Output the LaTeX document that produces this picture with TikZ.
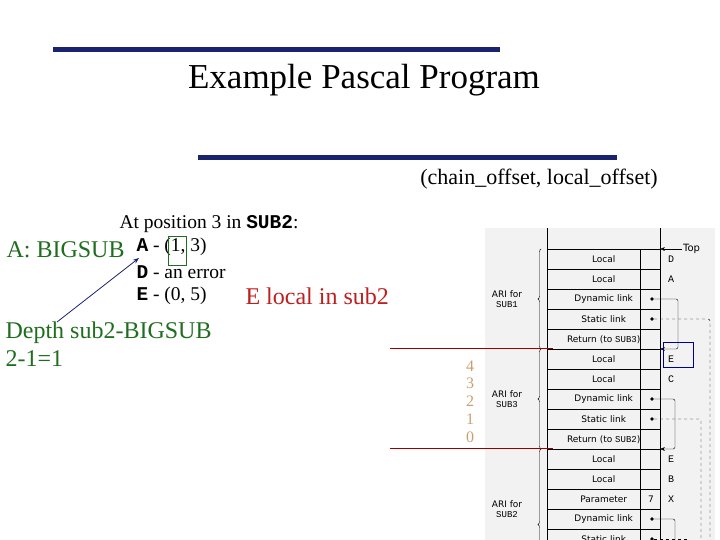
\documentclass[tikz,border=0pt]{standalone}
\usepackage{fontspec}
\setmainfont{Liberation Serif}
\setmonofont{Liberation Mono}
\newfontfamily\stackfont{DejaVu Sans}
\usetikzlibrary{arrows.meta, decorations.pathreplacing}
\definecolor{barblue}{RGB}{25,35,110}
\definecolor{darkgreen}{RGB}{30,110,30}
\definecolor{redtext}{RGB}{190,30,30}
\definecolor{tan}{RGB}{200,160,110}
\definecolor{panel}{RGB}{242,242,242}
\tikzset{
  cell/.style={draw, minimum width=113pt, minimum height=20pt, inner sep=0pt, font=\stackfont\fontsize{9}{10}\selectfont},
  letter/.style={font=\ttfamily\fontsize{10}{11}\selectfont},
  dot/.style={circle, fill, inner sep=1.3pt},
  link/.style={-{Stealth[length=5pt]}, rounded corners=2pt},
  slink/.style={dashed},
  ari/.style={font=\stackfont\fontsize{9}{10}\selectfont, align=center},
  big/.style={font=\fontsize{24}{26}\selectfont},
  mid/.style={font=\fontsize{19.5}{22}\selectfont}
}
\begin{document}
\begin{tikzpicture}[x=1pt, y=-1pt]
\useasboundingbox (0,0) rectangle (720,540);
% title
\draw[barblue, line width=5pt] (53,50) -- (500,50);
\node (title) at (364,80) {\fontsize{35}{38}\selectfont Example Pascal Program};
\draw[barblue, line width=5pt] (198,158) -- (617,158);
\node[font=\fontsize{22}{24}\selectfont] (pair) at (539,179) {(chain\_offset, local\_offset)};
% left text
\node[anchor=west, mid] (pos) at (116,224) {At position 3 in \textbf{\texttt{SUB2}}:};
\node[anchor=west, text=darkgreen, big] (bigsub) at (3,250) {A: BIGSUB};
\node[anchor=west, mid] (la) at (133,247) {\textbf{\texttt{A}} - (1, 3)};
\node[anchor=west, mid] (ld) at (133,272) {\textbf{\texttt{D}} - an error};
\node[anchor=west, mid] (le) at (133,296) {\textbf{\texttt{E}} - (0, 5)};
\node[anchor=west, text=redtext, big] (eloc) at (242,296) {E local in sub2};
\node[anchor=west, text=darkgreen, align=left, font=\fontsize{24}{28}\selectfont] (depth) at (2,344) {Depth sub2-BIGSUB\\2-1=1};
\draw[darkgreen] (168,236) rectangle (186,265);
\draw[barblue, thick, -{Stealth[length=6pt]}] (57,322) -- (139,258);
% stack panel
\fill[panel] (485,228) rectangle (715,540);
\begin{scope}
\clip (485,228) rectangle (715,540);
\draw (547,228) -- (547,249) (660,228) -- (660,249);
\foreach \t [count=\i from 0] in {Local,Local,Dynamic link,Static link,Return (to \texttt{SUB3}),Local,Local,Dynamic link,Static link,Return (to \texttt{SUB2}),Local,Local,Parameter,Dynamic link,Static link}
  \node[cell, anchor=north west] (c\i) at (547,249+20*\i) {\t};
\foreach \i in {0,...,14} \draw (640,249+20*\i) -- (640,269+20*\i);
\foreach \l [count=\i from 0] in {D,A,,,,E,C,,,,E,B,X}
  \node[letter] (l\i) at (671,259+20*\i) {\l};
\node[font=\stackfont\fontsize{9}{10}\selectfont] (seven) at (651,499) {7};
\foreach \i in {2,7,13} \node[dot] (d\i) at (652,259+20*\i) {};
\foreach \i in {3,8,14} \node[dot] (s\i) at (652,259+20*\i) {};
\node[font=\stackfont\fontsize{10}{11}\selectfont, anchor=west, inner sep=1pt] (top) at (682,249) {Top};
\draw[-{Stealth[length=5pt]}] (top.west) -- (660,249);
\draw[link] (d2) -- (678,299) -- (678,349) -- (660,349);
\draw[link] (d7) -- (675,399) -- (675,449) -- (660,449);
\draw[rounded corners=2pt] (d13) -- (675,519) -- (675,545);
\draw[slink, rounded corners=2pt] (s3) -- (710,319) -- (710,545);
\draw[slink, rounded corners=2pt] (s8) -- (701,419) -- (701,545);
\draw[slink] (s14) -- (690,539);
\draw[decorate, decoration={brace, amplitude=3pt}] (541,349) -- (541,249);
\draw[decorate, decoration={brace, amplitude=3pt}] (541,449) -- (541,349);
\draw[decorate, decoration={brace, amplitude=3pt}] (541,600) -- (541,449);
\node[ari] (a1) at (507,299) {ARI for\\\texttt{SUB1}};
\node[ari] (a3) at (507,399) {ARI for\\\texttt{SUB3}};
\node[ari] (a2) at (507,509) {ARI for\\\texttt{SUB2}};
\draw[blue!60!black] (663,342) rectangle (693,367);
\end{scope}
% offsets
\foreach \n [count=\i from 0] in {4,3,2,1,0}
  \node[text=tan, font=\fontsize{16}{17}\selectfont, inner sep=0pt] (n\n) at (470,366+17.7*\i) {\n};
\draw[red!60!black] (390,348) -- (553,348);
\draw[red!60!black] (390,448) -- (553,448);
\end{tikzpicture}
\end{document}
